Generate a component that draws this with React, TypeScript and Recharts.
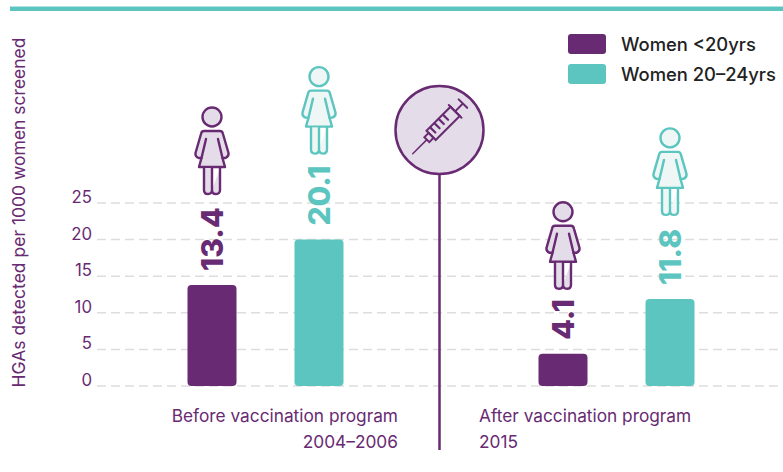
import React from 'react';
import { BarChart, Bar, XAxis, YAxis, CartesianGrid, LabelList } from 'recharts';

const periods = ['Before vaccination program', 'After vaccination program'];
const periodYears = ['2004–2006', '2015'];
const seriesNames = ['Women <20yrs', 'Women 20–24yrs'];
const under20Heights = [13.8, 4.4];
const over20Heights = [20, 11.9];
const under20Printed = ['13.4', '4.1'];
const over20Printed = ['20.1', '11.8'];
const yTicks = [0, 5, 10, 15, 20, 25];

const PURPLE = '#682A72';
const TEAL = '#5CC5BF';
const FONT = 'Inter, sans-serif';

const rows = periods.map((period, i) => ({
  period,
  under20: under20Heights[i],
  over20: over20Heights[i],
}));

const Woman: React.FC<{ cx: number; cy: number; color: string; tint: string }> = ({ cx, cy, color, tint }) => (
  <g transform={`translate(${cx},${cy})`} stroke={color} strokeWidth={2.4} fill={tint} strokeLinejoin="round" strokeLinecap="round">
    <circle r={9.5} />
    <path d="M-8,14 L8,14 Q10.5,14 11,17 L16.5,36 Q17,39.5 13.5,41 L10.5,41 L13,50 L-13,50 L-10.5,41 L-13.5,41 Q-17,39.5 -16.5,36 L-11,17 Q-10.5,14 -8,14 Z" />
    <path d="M-8,51 V73 Q-8,77 -4,77 Q0,77 0,73 V51 M0,73 Q0,77 4,77 Q8,77 8,73 V51" />
    <path d="M-6,22 L-10.5,41 M6,22 L10.5,41" fill="none" />
  </g>
);

// printed value turned on its side, with the figure standing above it
const barTopLabel = (printed: string[], lifts: number[], color: string, tint: string) => (props: any) => {
  const { x, y, width, index } = props;
  const cx = x + width / 2;
  return (
    <g>
      <text
        transform={`translate(${cx + 11},${y - 14}) rotate(-90)`}
        fill={color}
        fontFamily={FONT}
        fontWeight={800}
        fontSize={30}
      >
        {printed[index]}
      </text>
      <Woman cx={cx} cy={y - lifts[index]} color={color} tint={tint} />
    </g>
  );
};

const PeriodTick = (props: any) => {
  const { x, y, index, payload } = props;
  const before = index === 0;
  const tx = before ? x + 133 : x - 137;
  return (
    <text x={tx} y={y} textAnchor={before ? 'end' : 'start'} fill={PURPLE} fontFamily={FONT} fontSize={17.3}>
      <tspan x={tx} dy={0}>{payload.value}</tspan>
      <tspan x={tx} dy={26}>{periodYears[index]}</tspan>
    </text>
  );
};

const legendColors = [PURPLE, TEAL];

const LegendBox = () => (
  <div style={{ position: 'absolute', left: 568, top: 29, fontFamily: FONT, fontSize: 18.4, fontWeight: 500, color: '#222' }}>
    {seriesNames.map((name, i) => (
      <div key={name} style={{ display: 'flex', alignItems: 'center', height: 30 }}>
        <span style={{ width: 38, height: 20, borderRadius: 3, background: legendColors[i], marginRight: 15 }} />
        {name}
      </div>
    ))}
  </div>
);

const Overlay = () => (
  <svg width={783} height={472} style={{ position: 'absolute', left: 0, top: 0, pointerEvents: 'none' }}>
    <rect x={10} y={6.5} width={773} height={4.5} fill={TEAL} />
    <line x1={439.5} y1={170} x2={439.5} y2={450} stroke={PURPLE} strokeWidth={2.5} />
    <circle cx={439.5} cy={130} r={44} fill="#E4DCE8" stroke={PURPLE} strokeWidth={2.5} />
    <g transform="translate(441,125.5) rotate(-45)" stroke={PURPLE} strokeWidth={2} fill="none" strokeLinecap="round">
      <path d="M-40,0 H-20" strokeWidth={1.5} />
      <rect x={-20} y={-3.5} width={6} height={7} />
      <rect x={-14} y={-6.5} width={34} height={13} />
      <path d="M20,-9 V9 M20,0 H31 M31,-6 V6" />
      <path d="M-9,-6 V1 M-3,-6 V1 M3,-6 V1 M9,-6 V1" strokeWidth={2.2} />
    </g>
  </svg>
);

export default function App() {
  return (
    <div style={{ position: 'absolute', left: 0, top: 0, width: 783, height: 472, overflow: 'hidden', background: '#fff' }}>
      <BarChart
        width={783}
        height={472}
        data={rows}
        barSize={49}
        barGap={58}
        margin={{ top: 203, right: 0, bottom: 0, left: 0 }}
      >
        <CartesianGrid vertical={false} stroke="#DDDDDD" strokeWidth={1.5} strokeDasharray="9 5" />
        <XAxis
          dataKey="period"
          axisLine={false}
          tickLine={false}
          tickSize={0}
          interval={0}
          height={86}
          padding={{ left: -7.5, right: -8.5 }}
          tick={<PeriodTick />}
          tickMargin={36}
        />
        <YAxis
          width={97}
          domain={[0, 25]}
          ticks={yTicks}
          interval={0}
          axisLine={false}
          tickLine={false}
          tickSize={0}
          tickMargin={5}
          tick={{ fill: PURPLE, fontFamily: FONT, fontSize: 16.8, dy: -6 }}
          label={{
            value: 'HGAs detected per 1000 women screened',
            angle: -90,
            position: 'insideLeft',
            fill: PURPLE,
            fontFamily: FONT,
            fontSize: 17.5,
            dx: 14,
            dy: 93,
          }}
        />
        <Bar dataKey="under20" name={seriesNames[0]} fill={PURPLE} radius={4} isAnimationActive={false}>
          <LabelList content={barTopLabel(under20Printed, [168, 142], PURPLE, '#E4DCE8')} />
        </Bar>
        <Bar dataKey="over20" name={seriesNames[1]} fill={TEAL} radius={4} isAnimationActive={false}>
          <LabelList content={barTopLabel(over20Printed, [163, 161], TEAL, '#EEF7F6')} />
        </Bar>
      </BarChart>
      <LegendBox />
      <Overlay />
    </div>
  );
}
